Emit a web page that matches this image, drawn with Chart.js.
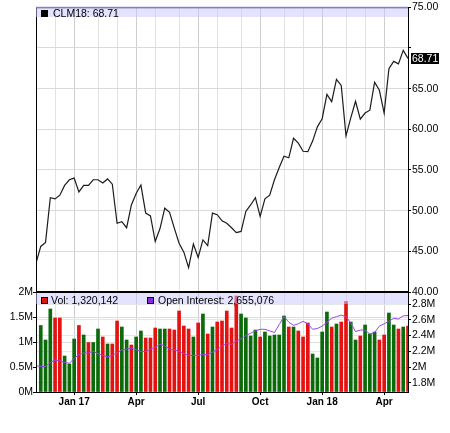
<!DOCTYPE html>
<html>
<head>
<meta charset="utf-8">
<script src="https://cdn.jsdelivr.net/npm/chart.js@4.4.0/dist/chart.umd.min.js"></script>
<style>
  body { margin: 0; background: #fff; }
  #wrap { position: relative; width: 450px; height: 433px; overflow: hidden; font-family: "Liberation Sans", Arial, sans-serif; }
  canvas { position: absolute; left: 0; }
  #priceCanvas { top: 0; }
  #volCanvas { top: 280px; }
  .band { position: absolute; left: 36px; width: 372px; height: 11px; background: rgba(200, 200, 255, 0.5); font-size: 10.5px; color: #000; white-space: nowrap; }
  .band span { position: absolute; line-height: 12px; }
  .swatch { position: absolute; box-sizing: border-box; width: 7px; height: 7px; border: 1px solid #000; }
  #lastBox { position: absolute; left: 411px; width: 28px; height: 11px; background: #000; color: #fff; font-size: 10.5px; line-height: 11px; padding-left: 1px; box-sizing: border-box; }
</style>
</head>
<body>
<div id="wrap">
  <canvas id="priceCanvas" width="450" height="300"></canvas>
  <canvas id="volCanvas" width="450" height="153"></canvas>

  <div class="band" style="top:6px">
    <div class="swatch" style="left:5px;top:4px;background:#000"></div>
    <span style="left:17px;top:1px">CLM18: 68.71</span>
  </div>
  <div class="band" style="top:293px">
    <div class="swatch" style="left:5px;top:4px;background:#e51212"></div>
    <span style="left:15px;top:1px">Vol: 1,320,142</span>
    <div class="swatch" style="left:111px;top:4px;background:#8a2be2"></div>
    <span style="left:122px;top:1px">Open Interest: 2,655,076</span>
  </div>
  <div id="lastBox">68.71</div>
</div>

<script>
// =========================
//  DATA (weekly, index 0 = left edge)
// =========================
const priceSeries = [43.55, 45.6, 46.1, 51.6, 51.45, 51.9, 53.1, 53.8, 54.0, 52.3,
    53.1, 53.1, 53.8, 53.8, 53.4, 53.9, 53.25, 48.45, 48.65, 47.9,
    50.7, 52.1, 53.15, 49.7, 49.35, 46.2, 47.8, 50.3, 49.8, 47.85,
    46.0, 44.9, 43.0, 45.9, 44.25, 46.4, 45.7, 49.7, 49.5, 48.75,
    48.45, 47.9, 47.3, 47.45, 49.9, 50.7, 51.6, 49.3, 51.45, 51.9,
    53.8, 55.3, 56.7, 56.5, 58.9, 58.3, 57.3, 57.25, 58.55, 60.3,
    61.3, 64.3, 63.4, 66.15, 65.4, 59.2, 61.4, 63.45, 61.25, 62.0,
    62.35, 65.8, 64.8, 62.0, 67.45, 68.35, 68.05, 69.7, 68.71];

// volume in millions
const volumeSeries = [null, 1.33, 1.04, 1.66, 1.48, 1.48, 0.72, 0.56, 1.06, 1.33,
    1.14, 0.99, 0.99, 1.26, 1.10, 0.96, 0.96, 1.42, 1.30, 1.04,
    0.94, 1.10, 1.22, 1.08, 1.08, 1.28, 1.26, 1.26, 1.26, 1.24,
    1.62, 1.32, 1.26, 1.10, 1.38, 1.56, 1.16, 1.30, 1.40, 1.42,
    1.62, 1.28, 1.92, 1.56, 1.48, 1.12, 1.24, 1.10, 1.20, 1.12,
    1.14, 1.14, 1.52, 1.30, 1.30, 1.22, 1.10, 1.38, 0.76, 0.68,
    1.20, 1.60, 1.30, 1.36, 1.40, 1.81, 1.40, 1.04, 1.12, 1.34,
    1.16, 1.20, 1.04, 1.14, 1.58, 1.34, 1.26, 1.30, 1.32];

// 1 = up week (green), 0 = down week (red)
const volumeUp = [null, 1, 1, 1, 0, 0, 1, 1, 1, 0,
    1, 0, 1, 1, 0, 1, 0, 0, 1, 1,
    0, 1, 1, 0, 0, 0, 1, 1, 0, 0,
    0, 0, 0, 1, 0, 1, 0, 1, 0, 0,
    0, 0, 0, 1, 1, 1, 1, 0, 1, 1,
    1, 1, 1, 0, 1, 0, 0, 0, 1, 1,
    1, 1, 0, 1, 0, 0, 1, 1, 0, 1,
    1, 1, 0, 0, 1, 1, 0, 1, 0];

// open interest in millions
const openInterest = [2.02, 2.01, 2.01, 2.06, 2.09, 2.08, 2.06, 2.05, 2.11, 2.16,
    2.18, 2.18, 2.20, 2.17, 2.15, 2.13, 2.15, 2.18, 2.22, 2.23,
    2.24, 2.22, 2.20, 2.20, 2.23, 2.25, 2.29, 2.27, 2.23, 2.22,
    2.20, 2.17, 2.15, 2.15, 2.15, 2.16, 2.16, 2.19, 2.22, 2.27,
    2.30, 2.29, 2.33, 2.36, 2.40, 2.43, 2.46, 2.48, 2.48, 2.46,
    2.44, 2.54, 2.64, 2.57, 2.53, 2.55, 2.58, 2.55, 2.48, 2.49,
    2.52, 2.57, 2.62, 2.64, 2.66, 2.64, 2.56, 2.45, 2.47, 2.47,
    2.42, 2.44, 2.52, 2.55, 2.58, 2.62, 2.61, 2.65, 2.655];

const monthGrid = [4, 8, 13, 17, 21, 25, 30, 34, 38, 43, 47, 52, 56, 60, 65, 69, 73];
const tickWeeks = [8, 21, 34, 47, 60, 73];
const tickLabels = ["Jan 17", "Apr", "Jul", "Oct", "Jan 18", "Apr"];

const priceTicks = [40, 45, 50, 55, 60, 65, 70, 75];
const volTicks = [0, 0.5, 1, 1.5, 2];
const oiTicks = [1.8, 2.0, 2.2, 2.4, 2.6, 2.8];

const lastPrice = priceSeries[priceSeries.length - 1];

// =========================
//  SHARED BITS
// =========================
Chart.defaults.font.family = '"Liberation Sans", Arial, sans-serif';
Chart.defaults.color = '#000';
Chart.defaults.animation = false;

const FONT = { size: 10.5 };
const GREEN = '#0b6b0b';
const RED = '#e51212';

function weekAxis(showLabels) {
    return {
        type: 'linear',
        min: 0,
        max: priceSeries.length - 1,
        offset: false,
        afterBuildTicks: (s) => { s.ticks = monthGrid.map(v => ({ value: v })); },
        grid: {
            offset: false,
            color: (c) => tickWeeks.includes(c.tick && c.tick.value) ? '#cdcdcd' : '#e2e2e2',
            tickColor: (c) => tickWeeks.includes(c.tick && c.tick.value) ? '#000' : 'rgba(0,0,0,0)',
            drawTicks: showLabels,
            tickLength: 3
        },
        border: { display: false },
        ticks: {
            display: showLabels,
            autoSkip: false,
            maxRotation: 0,
            padding: 1,
            font: { size: 10, weight: 'bold' },
            callback: (v) => {
                const k = tickWeeks.indexOf(v);
                return k >= 0 ? tickLabels[k] : '';
            }
        },
        afterFit: (s) => { s.height = showLabels ? 41 : 0; }
    };
}

// black frame around plot area
const framePlugin = {
    id: 'frame',
    afterDraw(chart, args, opts) {
        const { ctx, chartArea: a } = chart;
        ctx.save();
        ctx.strokeStyle = '#000';
        ctx.lineWidth = 1;
        ctx.strokeRect(a.left + 0.5, a.top + 0.5, a.right - a.left, a.bottom - a.top);
        if (opts.thickTop) {
            ctx.fillStyle = '#000';
            ctx.fillRect(a.left, a.top - 1, a.right - a.left + 1, 2);
        }
        ctx.restore();
    }
};

// =========================
//  PRICE PANEL
// =========================
const priceChart = new Chart(document.getElementById('priceCanvas'), {
    type: 'line',
    data: {
        datasets: [{
            data: priceSeries.map((v, i) => ({ x: i, y: v })),
            borderColor: '#1c1c1c',
            borderWidth: 1.2,
            pointRadius: 0,
            tension: 0
        }]
    },
    options: {
        responsive: false,
        layout: { padding: { left: 36, top: 5, right: 0, bottom: 8 } },
        plugins: { legend: { display: false }, tooltip: { enabled: false }, frame: {} },
        scales: {
            x: weekAxis(false),
            y: {
                position: 'right',
                min: 40,
                max: 75,
                afterBuildTicks: (s) => { s.ticks = priceTicks.map(v => ({ value: v })); },
                grid: { color: '#dadada', tickColor: '#000', tickLength: 3 },
                border: { display: false },
                ticks: {
                    padding: 1,
                    font: FONT,
                    callback: (v) => Math.abs(v - lastPrice) < 2.5 ? '' : v.toFixed(2)
                },
                afterFit: (s) => { s.width = 42; }
            }
        }
    },
    plugins: [framePlugin]
});

// place the last-price tag on the axis
const lastBox = document.getElementById('lastBox');
lastBox.style.top = (priceChart.scales.y.getPixelForValue(lastPrice) - 5.5) + 'px';

// =========================
//  VOLUME / OPEN INTEREST PANEL
// =========================
new Chart(document.getElementById('volCanvas'), {
    type: 'bar',
    data: {
        datasets: [{
            type: 'line',
            data: openInterest.map((v, i) => ({ x: i, y: v })),
            yAxisID: 'oi',
            borderColor: '#9a45ec',
            borderWidth: 1,
            pointRadius: 0,
            tension: 0,
            order: 0
        }, {
            data: volumeSeries.map((v, i) => ({ x: i, y: v })),
            yAxisID: 'vol',
            backgroundColor: volumeUp.map(u => u ? GREEN : RED),
            barThickness: 3,
            order: 1
        }]
    },
    options: {
        responsive: false,
        layout: { padding: { left: 0, top: 12, right: 0, bottom: 0 } },
        plugins: { legend: { display: false }, tooltip: { enabled: false }, frame: { thickTop: true } },
        scales: {
            x: weekAxis(true),
            vol: {
                position: 'left',
                min: 0,
                max: 2,
                afterBuildTicks: (s) => { s.ticks = volTicks.map(v => ({ value: v })); },
                grid: { color: '#dedede', tickColor: '#000', tickLength: 3 },
                border: { display: false },
                ticks: { padding: 0, font: FONT, callback: (v) => v + 'M' },
                afterFit: (s) => { s.width = 36; }
            },
            oi: {
                position: 'right',
                min: 1.686,
                max: 2.952,
                afterBuildTicks: (s) => { s.ticks = oiTicks.map(v => ({ value: v })); },
                grid: { color: '#e6e6e6', tickColor: '#000', tickLength: 3 },
                border: { display: false },
                ticks: { padding: 1, font: FONT, callback: (v) => (+v.toFixed(1)) + 'M' },
                afterFit: (s) => { s.width = 42; }
            }
        }
    },
    plugins: [framePlugin]
});
</script>
</body>
</html>
